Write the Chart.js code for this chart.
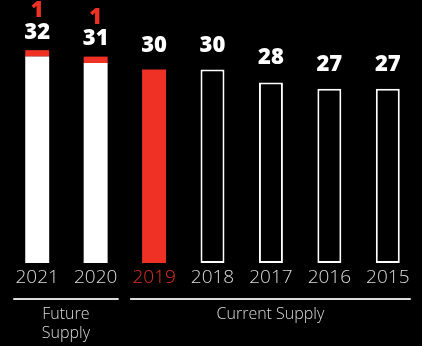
<!DOCTYPE html>
<html>
<head>
<meta charset="utf-8">
<script src="https://cdn.jsdelivr.net/npm/chart.js@4/dist/chart.umd.min.js"></script>
<style>
  html, body { margin: 0; padding: 0; background: #000; }
  #wrap { width: 422px; height: 346px; position: relative; }
</style>
</head>
<body>
<div id="wrap"><canvas id="chart"></canvas></div>
<script>
const years = ['2021', '2020', '2019', '2018', '2017', '2016', '2015'];
const supply = [32, 31, 30, 30, 28, 27, 27];
const added = [1, 1, null, null, null, null, null];
const groups = [
  { label: ['Future', 'Supply'], from: 0, to: 1 },
  { label: ['Current Supply'], from: 2, to: 6 },
];

const RED = '#ee3124';
const WHITE = '#ffffff';
const GREY = '#dcdcdc';

// future years solid white, current year red, past years outlined
const fillFor = i => (i < 2 ? WHITE : i === 2 ? RED : '#000');
const edgeFor = i => (i < 2 ? WHITE : i === 2 ? RED : WHITE);

const labelsPlugin = {
  id: 'supplyLabels',
  afterDatasetsDraw(chart) {
    const ctx = chart.ctx;
    const x = chart.scales.x;
    const base = chart.getDatasetMeta(0);
    ctx.save();
    ctx.textAlign = 'center';
    ctx.textBaseline = 'alphabetic';

    base.data.forEach((bar, i) => {
      const cx = bar.x;
      const top = bar.y;
      ctx.font = '800 22px "Open Sans"';
      ctx.fillStyle = WHITE;
      ctx.fillText(String(supply[i]), cx, top - 18);
      if (added[i] != null) {
        ctx.fillStyle = RED;
        ctx.fillText(String(added[i]), cx, top - 39.5);
      }
    });

    // year labels under the bars
    ctx.font = '300 19px "Open Sans"';
    years.forEach((y, i) => {
      ctx.fillStyle = i === 2 ? '#e0301f' : GREY;
      ctx.fillText(y, x.getPixelForValue(i), 283);
    });

    // bracket lines and group names
    groups.forEach(g => {
      const left = x.getPixelForValue(g.from) - 24;
      const right = x.getPixelForValue(g.to) + 23;
      ctx.strokeStyle = GREY;
      ctx.lineWidth = 2;
      ctx.beginPath();
      ctx.moveTo(left, 299);
      ctx.lineTo(right, 299);
      ctx.stroke();
      ctx.font = '300 16px "Open Sans"';
      ctx.fillStyle = GREY;
      g.label.forEach((line, k) => {
        ctx.fillText(line, (left + right) / 2, 319 + k * 19);
      });
    });
    ctx.restore();
  },
};

new Chart(document.getElementById('chart'), {
  type: 'bar',
  data: {
    labels: years,
    datasets: [
      {
        data: supply,
        backgroundColor: years.map((_, i) => fillFor(i)),
        borderColor: years.map((_, i) => edgeFor(i)),
        borderWidth: years.map((_, i) => (i > 2 ? 2 : 0)),
        borderSkipped: false,
      },
      {
        data: added,
        backgroundColor: RED,
        borderWidth: 0,
      },
    ],
  },
  options: {
    responsive: true,
    maintainAspectRatio: false,
    animation: false,
    layout: { padding: { left: 8, right: 5, top: 5, bottom: 83 } },
    datasets: { bar: { barPercentage: 0.41, categoryPercentage: 1 } },
    scales: {
      x: { display: false, stacked: true },
      y: { display: false, stacked: true, min: 0, max: 40 },
    },
    plugins: { legend: { display: false }, tooltip: { enabled: false } },
  },
  plugins: [labelsPlugin],
});
</script>
</body>
</html>
